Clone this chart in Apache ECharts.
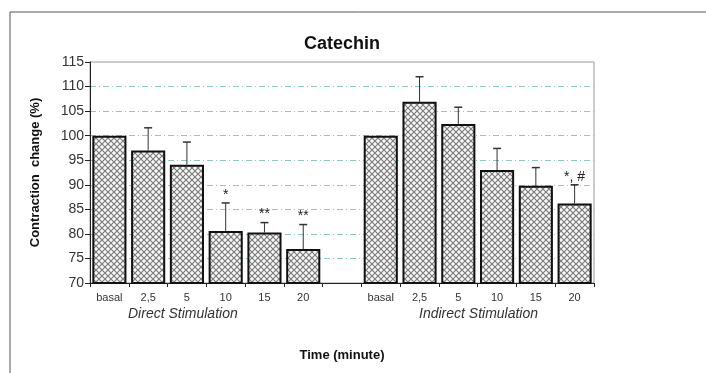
<!DOCTYPE html>
<html><head><meta charset="utf-8">
<script src="https://cdn.jsdelivr.net/npm/echarts@6/dist/echarts.min.js"></script>
<style>html,body{margin:0;padding:0;background:#fff}#c{width:706px;height:373px}</style>
</head><body><div id="c"></div>
<script>
var categories = ['basal','2,5','5','10','15','20','','basal','2,5','5','10','15','20'];
var means = [100, 97, 94.1, 80.6, 80.3, 76.9, null, 100, 106.9, 102.4, 93.0, 89.8, 86.2];
var errTops = [null, 101.6, 98.7, 86.3, 82.3, 81.9, null, null, 112.0, 105.8, 97.4, 93.5, 90.0];
var marks = ['', '', '', '*', '**', '**', '', '', '', '', '', '', '*, #'];
var yTicks = [70, 75, 80, 85, 90, 95, 100, 105, 110, 115];
var groupLabels = ['Direct Stimulation', 'Indirect Stimulation'];

var pc = document.createElement('canvas');
pc.width = 6; pc.height = 6;
var g = pc.getContext('2d');
g.fillStyle = '#f8f8f8'; g.fillRect(0,0,6,6);
g.strokeStyle = '#7c7c7c'; g.lineWidth = 1.2;
g.beginPath();
g.moveTo(-1,-1); g.lineTo(7,7);
g.moveTo(7,-1); g.lineTo(-1,7);
g.stroke();

var chart = echarts.init(document.getElementById('c'));
var font = 'Liberation Sans, Arial, sans-serif';
chart.setOption({
  animation: false,
  backgroundColor: '#fff',
  title: { text: 'Catechin', left: 337, top: 30, textAlign: 'center',
    textStyle: { fontFamily: font, fontWeight: 'bold', fontSize: 18, color: '#111' } },
  grid: { left: 90, right: 112, top: 62, bottom: 90, show: true, borderColor: '#9a9a9a', borderWidth: 1 },
  xAxis: {
    type: 'category', data: categories,
    axisLine: { lineStyle: { color: '#222', width: 1 } },
    axisTick: { show: true, alignWithLabel: false, length: 4, lineStyle: { color: '#222' } },
    axisLabel: { fontFamily: font, fontSize: 11, color: '#333', margin: 9 },
    name: 'Time (minute)', nameLocation: 'middle', nameGap: 66,
    nameTextStyle: { fontFamily: font, fontWeight: 'bold', fontSize: 13, color: '#111' }
  },
  yAxis: {
    type: 'value', min: yTicks[0], max: yTicks[yTicks.length-1], interval: 5,
    axisLine: { show: true, lineStyle: { color: '#222', width: 1 } },
    axisTick: { show: true, length: 5, lineStyle: { color: '#222' } },
    axisLabel: { fontFamily: font, fontSize: 14, color: '#333', margin: 6 },
    splitLine: { show: true, showMaxLine: false, showMinLine: false,
      lineStyle: { color: '#8fc6c6', width: 1, type: [6,3,1,3] } },
    name: 'Contraction  change (%)', nameLocation: 'middle', nameGap: 48,
    nameTextStyle: { fontFamily: font, fontWeight: 'bold', fontSize: 13, color: '#111' }
  },
  series: [
    { type: 'bar', data: means, barWidth: '88%',
      itemStyle: { color: { image: pc, repeat: 'repeat' }, borderColor: '#111', borderWidth: 2 },
      z: 3 },
    { type: 'custom', z: 2,
      data: errTops.map(function(v, i){ return [i, means[i], v]; }),
      renderItem: function(params, api) {
        var i = api.value(0);
        var m = api.value(1), t = api.value(2);
        var mk = marks[params.dataIndex];
        var children = [];
        if (t != null && !isNaN(t) && m != null && !isNaN(m)) {
          var p0 = api.coord([i, m]);
          var p1 = api.coord([i, t]);
          children.push({ type: 'line', shape: { x1: p0[0], y1: p0[1], x2: p1[0], y2: p1[1] },
            style: { stroke: '#333', lineWidth: 1 } });
          children.push({ type: 'line', shape: { x1: p1[0]-4, y1: p1[1], x2: p1[0]+4, y2: p1[1] },
            style: { stroke: '#333', lineWidth: 1.5 } });
          if (mk) {
            children.push({ type: 'text', x: p1[0], y: p1[1] - 1,
              style: { text: mk, textAlign: 'center', textVerticalAlign: 'bottom',
                fontFamily: font, fontSize: 14, fill: '#222' } });
          }
        }
        return { type: 'group', children: children };
      }
    }
  ],
  graphic: [
    { type: 'rect', shape: { x: 10, y: 12, width: 720, height: 400 }, z: -10,
      style: { fill: 'none', stroke: '#555', lineWidth: 1 } },
    { type: 'text', left: 128, top: 307,
      style: { text: groupLabels[0], fontFamily: font, fontStyle: 'italic', fontSize: 14, fill: '#333' } },
    { type: 'text', left: 419, top: 307,
      style: { text: groupLabels[1], fontFamily: font, fontStyle: 'italic', fontSize: 14, fill: '#333' } }
  ]
});
</script></body></html>
